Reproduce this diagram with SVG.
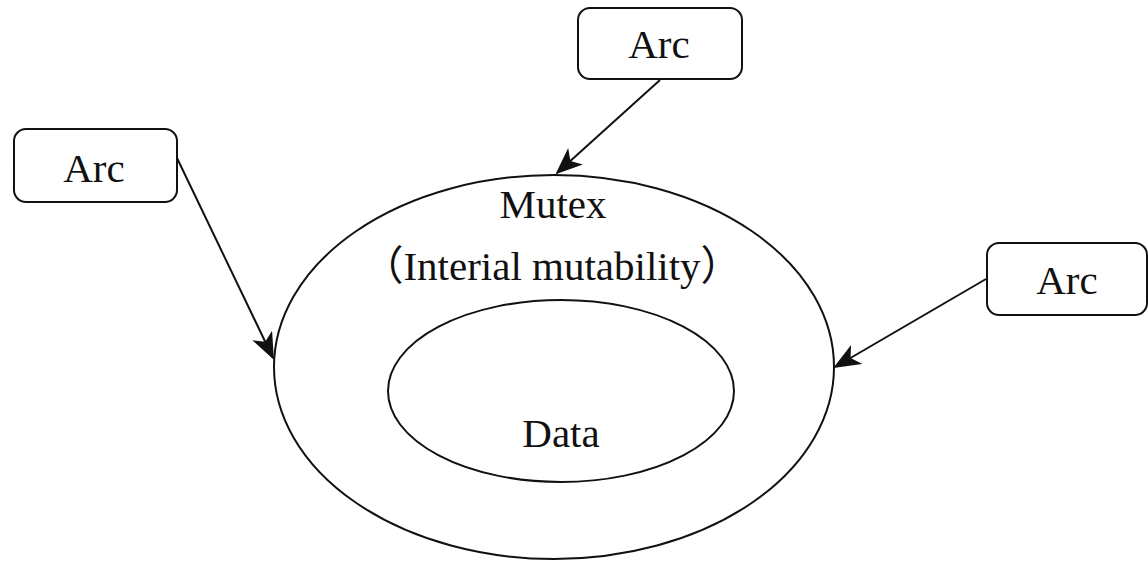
<svg xmlns="http://www.w3.org/2000/svg" width="1148" height="562" viewBox="0 0 1148 562">
<style>
.shape{fill:none;stroke:#111;stroke-width:2}
.box{fill:#fff;stroke:#111;stroke-width:2}
.lbl{font-family:"Liberation Serif","Noto Sans CJK SC",serif;font-size:41px;fill:#111;text-anchor:middle}
.edge{fill:none;stroke:#111;stroke-width:2;marker-end:url(#ah)}
</style>
<defs>
<marker id="ah" markerUnits="userSpaceOnUse" markerWidth="30" markerHeight="24" refX="25" refY="11" orient="auto">
<path d="M0,0 L27,11 L0,22 L7,11 Z" fill="#111"/>
</marker>
</defs>
<rect width="1148" height="562" fill="#fff"/>
<g id="mutex">
<ellipse class="shape" cx="554" cy="367" rx="280" ry="192"/>
<text class="lbl" x="553" y="218">Mutex</text>
<text class="lbl" x="552" y="280">（Interial mutability）</text>
</g>
<g id="data">
<ellipse class="shape" cx="561" cy="391" rx="173" ry="91"/>
<text class="lbl" x="561" y="447">Data</text>
</g>
<g id="arc-top">
<rect class="box" x="578" y="8" width="164" height="71" rx="12"/>
<text class="lbl" x="659" y="58">Arc</text>
</g>
<g id="arc-left">
<rect class="box" x="14" y="129" width="163" height="73" rx="12"/>
<text class="lbl" x="94" y="182">Arc</text>
</g>
<g id="arc-right">
<rect class="box" x="987" y="243" width="160" height="72" rx="12"/>
<text class="lbl" x="1067" y="294">Arc</text>
</g>
<g id="connectors">
<line class="edge" x1="660" y1="80" x2="557" y2="173"/>
<line class="edge" x1="177" y1="158" x2="273" y2="358"/>
<line class="edge" x1="986" y1="279" x2="835" y2="367"/>
</g>
</svg>
